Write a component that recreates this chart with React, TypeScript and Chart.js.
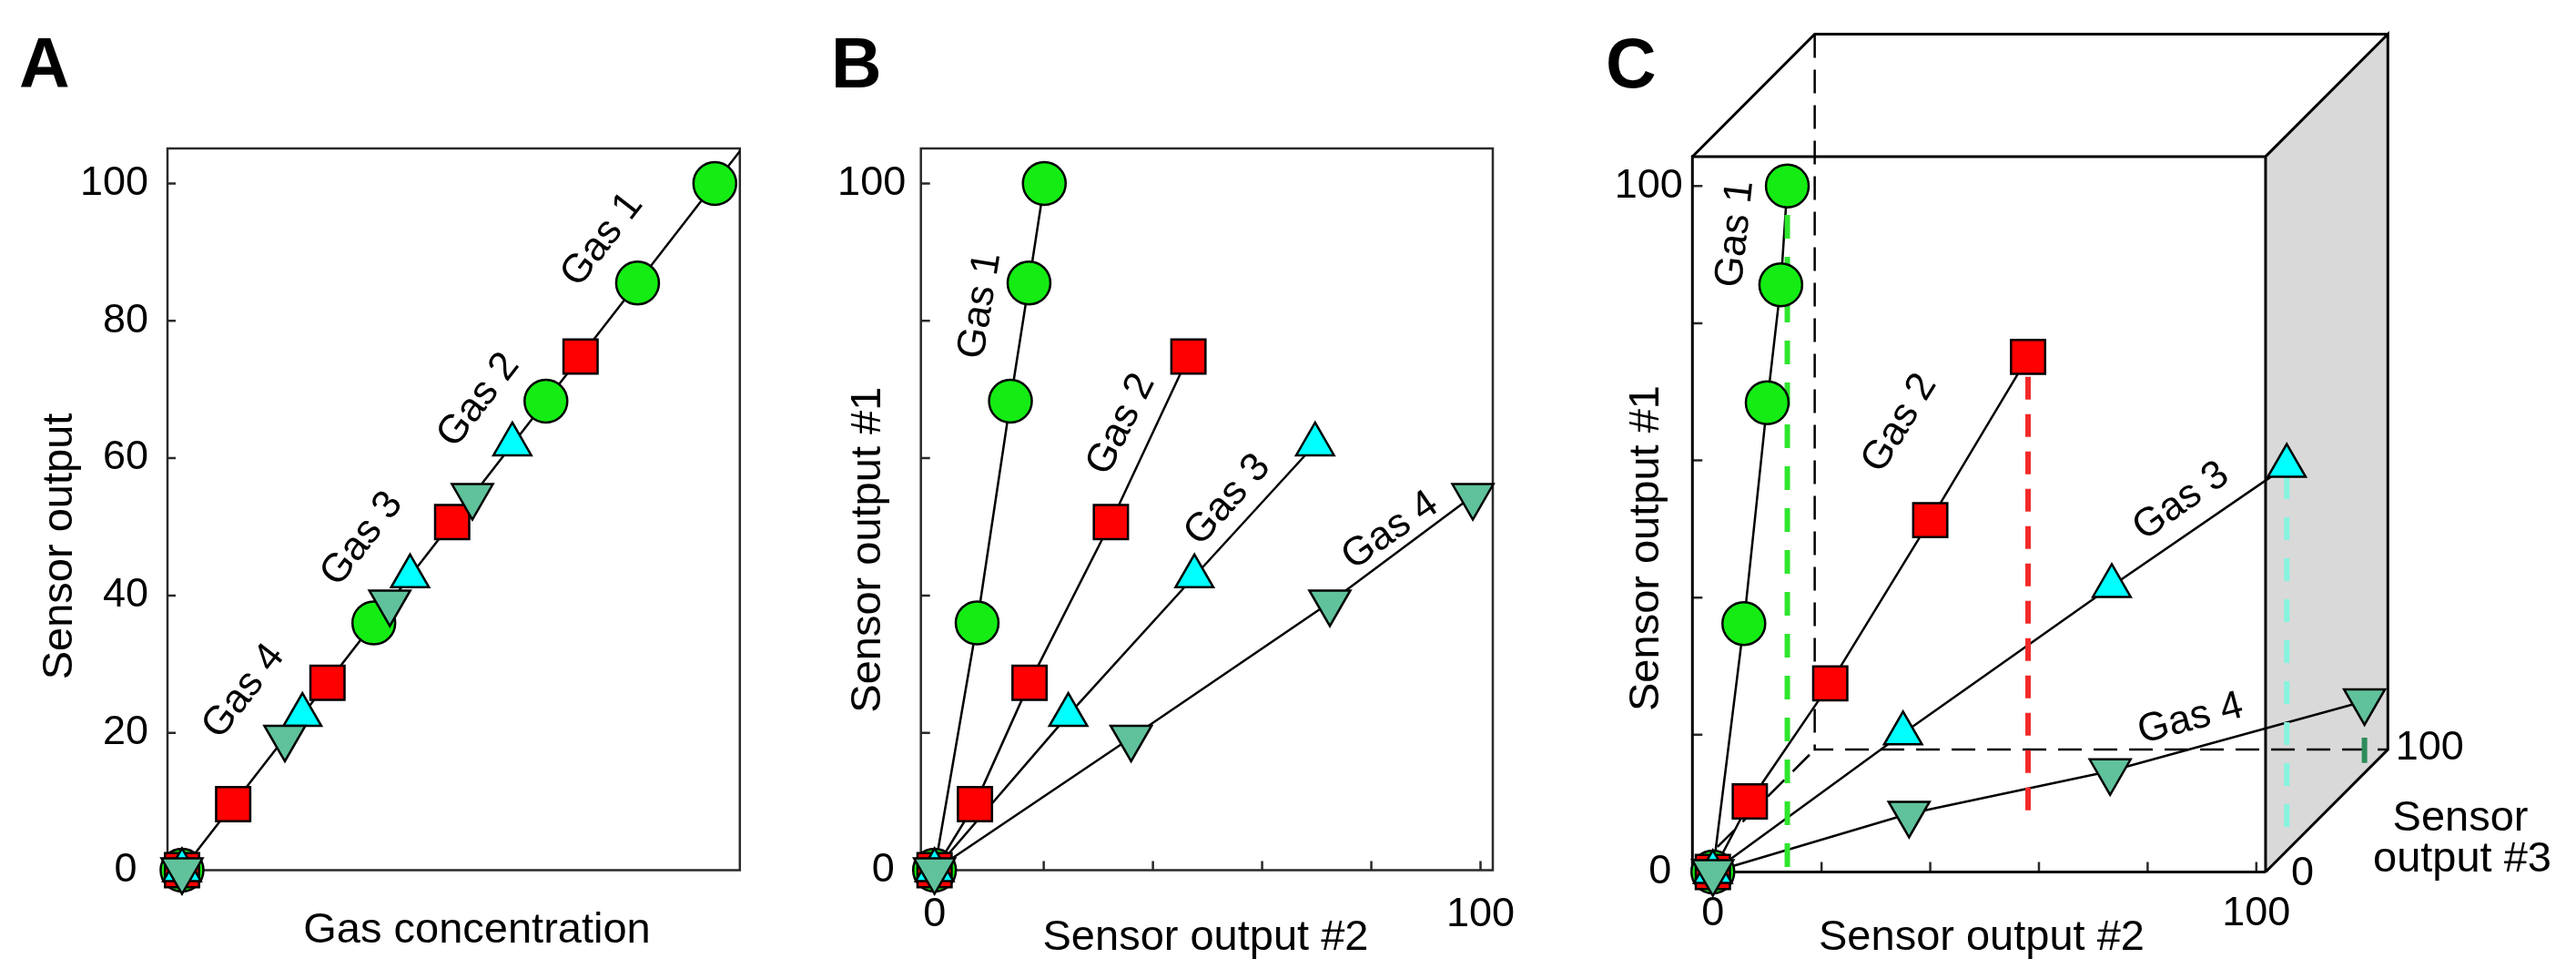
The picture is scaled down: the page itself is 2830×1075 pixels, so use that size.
import React, { useEffect, useRef } from 'react';
import { Chart, registerables } from 'chart.js';

Chart.register(...registerables);

const FONT = '"Liberation Sans", Arial, Helvetica, sans-serif';
const PAGE_W = 2830;
const PAGE_H = 1075;

// ---------------- data ----------------
const gasNames = ['Gas 1', 'Gas 2', 'Gas 3', 'Gas 4'];

// Panel A: single sensor output vs gas concentration
const gas1ConcA = [0, 36, 68.3, 85.5, 100];
const gas1OutA = [0, 36, 68.3, 85.5, 100];
const gas2ConcA = [0, 9.6, 27.3, 50.7, 74.8];
const gas2OutA = [0, 9.6, 27.3, 50.7, 74.8];
const gas3ConcA = [0, 22.6, 42.8, 62];
const gas3OutA = [0, 22.6, 42.8, 62];
const gas4ConcA = [0, 19.3, 39, 54.5];
const gas4OutA = [0, 19.3, 39, 54.5];
const responseLineConcA = [0, 105];
const responseLineOutA = [0, 105];

// Panel B: sensor output #1 vs sensor output #2
const gas1Out2B = [0, 7.8, 13.9, 17.3, 20.1];
const gas1Out1B = [0, 36, 68.3, 85.5, 100];
const gas2Out2B = [0, 7.4, 17.4, 32.3, 46.5];
const gas2Out1B = [0, 9.6, 27.3, 50.7, 74.8];
const gas3Out2B = [0, 24.5, 47.6, 69.7];
const gas3Out1B = [0, 22.6, 42.8, 62];
const gas4Out2B = [0, 36, 72.4, 98.6];
const gas4Out1B = [0, 19.3, 39, 54.5];

// Panel C: 3-sensor space, projected (front-face units)
const gas1XC = [0, 5.7, 10.0, 12.5, 13.7];
const gas1YC = [0, 36.2, 68.4, 85.6, 100];
const gas2XC = [0, 6.8, 21.6, 40.0, 58.0];
const gas2YC = [0, 10.3, 27.5, 51.3, 75.1];
const gas3XC = [0, 35.0, 73.4, 105.6];
const gas3YC = [0, 20.2, 41.7, 59.2];
const gas4XC = [0, 36.1, 73.1, 119.9];
const gas4YC = [0, 8.5, 14.7, 24.9];
// drop lines (projection onto the floor) in panel C
const dropXC = [13.7, 58.0, 105.6, 119.9];
const dropTopC = [95.8, 72.2, 57.7, 19.6];
const dropBottomC = [0, 7.3, 5.0, 15.9];
// box of panel C (front face extents and depth offset)
const boxC = { x0: -3.76, x1: 101.7, top: 104.3, depthX: 22.5, depthY: 17.85 };

// ticks
const tickValues = [0, 20, 40, 60, 80, 100];
const tickLabelsA = ['0 ', '20', '40', '60', '80', '100'];
const yEndLabels = ['0 ', '', '', '', '', '100'];
const xEndLabels = ['0', '', '', '', '', '100'];
const depthLabels = ['0', '100'];

// ---------------- styles ----------------
const MARKERS = [
  { style: 'circle', fill: '#14ec14', radius: 23.5, rotation: 0, order: 4 },
  { style: 'rect', fill: '#ff0000', radius: 26.5, rotation: 0, order: 3 },
  { style: 'triangle', fill: '#00ffff', radius: 24, rotation: 0, order: 2 },
  { style: 'triangle', fill: '#5fc29b', radius: 26, rotation: 180, order: 1 },
];
const DROP_STYLES = [
  { color: '#2ee62e', width: 6, dash: [26, 20] },
  { color: '#f22a2a', width: 6, dash: [25, 16] },
  { color: '#86f3df', width: 6, dash: [25, 20] },
  { color: '#2e8b5a', width: 6, dash: [] as number[] },
];

type Pt = { x: number; y: number };
const pts = (xs: number[], ys: number[]): Pt[] => xs.map((x, i) => ({ x, y: ys[i] }));

function markerSet(data: Pt[], i: number) {
  const m = MARKERS[i];
  return {
    data,
    showLine: false,
    pointStyle: m.style,
    pointRadius: m.radius,
    pointHoverRadius: m.radius,
    pointRotation: m.rotation,
    pointBackgroundColor: m.fill,
    pointBorderColor: '#000',
    pointBorderWidth: 2.5,
    order: m.order,
    clip: false,
  };
}

function lineSet(data: Pt[], extra: any = {}) {
  return {
    data,
    showLine: true,
    pointRadius: 0,
    pointHoverRadius: 0,
    borderColor: '#000',
    borderWidth: 2.5,
    fill: false,
    order: 70,
    clip: false,
    borderCapStyle: 'butt',
    borderJoinStyle: 'miter',
    ...extra,
  };
}

function axis(min: number, max: number, horizontal: boolean, size: number, labels: string[], padding: number) {
  return {
    type: 'linear',
    min,
    max,
    display: true,
    afterBuildTicks: (s: any) => {
      s.ticks = tickValues.map((v) => ({ value: v }));
    },
    afterFit: (s: any) => {
      if (horizontal) s.height = size;
      else s.width = size;
    },
    ticks: {
      display: labels.length > 0,
      autoSkip: false,
      maxRotation: 0,
      minRotation: 0,
      padding,
      color: '#000',
      font: { family: FONT, size: 45 },
      callback: (_v: any, i: number) => (labels[i] !== undefined ? labels[i] : ''),
    },
    grid: { display: false, drawTicks: false },
    border: { display: false },
  };
}

type GasLabel = { text: string; at: Pt; from: Pt; to: Pt };
type FreeText = { text: string; x: number; y: number; font: string; align?: CanvasTextAlign; baseline?: CanvasTextBaseline; rot?: number };

function decor(spec: {
  id: string;
  frame: boolean;
  tickX: boolean;
  tickY: boolean;
  tickLen: number;
  gasLabels: GasLabel[];
  texts: FreeText[];
  anchored?: { text: string; at: Pt; dx: number; dy: number }[];
}) {
  return {
    id: spec.id,
    beforeDatasetsDraw(chart: any) {
      const { ctx, chartArea: a, scales } = chart;
      const xs = scales.x;
      const ys = scales.y;
      ctx.save();
      ctx.strokeStyle = '#2a2a2a';
      ctx.lineWidth = 2.5;
      if (spec.frame) ctx.strokeRect(a.left, a.top, a.right - a.left, a.bottom - a.top);
      ctx.beginPath();
      if (spec.tickY) {
        for (const t of ys.ticks) {
          const py = ys.getPixelForValue(t.value);
          ctx.moveTo(a.left, py);
          ctx.lineTo(a.left + spec.tickLen, py);
        }
      }
      if (spec.tickX) {
        for (const t of xs.ticks) {
          const px = xs.getPixelForValue(t.value);
          ctx.moveTo(px, a.bottom);
          ctx.lineTo(px, a.bottom - spec.tickLen);
        }
      }
      ctx.stroke();
      ctx.restore();
    },
    afterDatasetsDraw(chart: any) {
      const { ctx, scales } = chart;
      const xs = scales.x;
      const ys = scales.y;
      ctx.save();
      ctx.fillStyle = '#000';
      for (const g of spec.gasLabels) {
        const ang = Math.atan2(
          ys.getPixelForValue(g.to.y) - ys.getPixelForValue(g.from.y),
          xs.getPixelForValue(g.to.x) - xs.getPixelForValue(g.from.x)
        );
        ctx.save();
        ctx.translate(xs.getPixelForValue(g.at.x), ys.getPixelForValue(g.at.y));
        ctx.rotate(ang);
        ctx.font = `44px ${FONT}`;
        ctx.textAlign = 'center';
        ctx.textBaseline = 'middle';
        ctx.fillText(g.text, 0, 0);
        ctx.restore();
      }
      for (const t of spec.anchored || []) {
        ctx.font = `45px ${FONT}`;
        ctx.textAlign = 'left';
        ctx.textBaseline = 'middle';
        ctx.fillText(t.text, xs.getPixelForValue(t.at.x) + t.dx, ys.getPixelForValue(t.at.y) + t.dy);
      }
      for (const t of spec.texts) {
        ctx.save();
        ctx.translate(t.x, t.y);
        if (t.rot) ctx.rotate(t.rot);
        ctx.font = t.font;
        ctx.textAlign = t.align || 'center';
        ctx.textBaseline = t.baseline || 'middle';
        ctx.fillText(t.text, 0, 0);
        ctx.restore();
      }
      ctx.restore();
    },
  };
}

const TITLE = `47px ${FONT}`;
const LETTER = `bold 77px ${FONT}`;

function baseOptions(padTop: number, padRight: number, scales: any) {
  return {
    responsive: false,
    maintainAspectRatio: false,
    animation: false,
    events: [],
    layout: { padding: { left: 0, top: padTop, right: padRight, bottom: 0 } },
    plugins: { legend: { display: false }, tooltip: { enabled: false } },
    scales,
  };
}

// ---------------- panel configs ----------------
function configA() {
  const W = 880;
  const area = { left: 184, right: 812.8, top: 163, bottom: 955.5 };
  const lineData = pts(responseLineConcA, responseLineOutA);
  return {
    type: 'scatter',
    data: {
      datasets: [
        lineSet(lineData, { clip: 0 }),
        markerSet(pts(gas1ConcA, gas1OutA), 0),
        markerSet(pts(gas2ConcA, gas2OutA), 1),
        markerSet(pts(gas3ConcA, gas3OutA), 2),
        markerSet(pts(gas4ConcA, gas4OutA), 3),
      ],
    },
    options: baseOptions(area.top, W - area.right, {
      x: axis(-2.73, 104.7, true, PAGE_H - area.bottom, [], 0),
      y: axis(0, 105.1, false, area.left, tickLabelsA, 21),
    }),
    plugins: [
      decor({
        id: 'decorA',
        frame: true,
        tickX: false,
        tickY: true,
        tickLen: 9,
        gasLabels: [
          { text: gasNames[0], at: { x: 78.9, y: 91.8 }, from: lineData[0], to: lineData[1] },
          { text: gasNames[1], at: { x: 55.7, y: 68.4 }, from: lineData[0], to: lineData[1] },
          { text: gasNames[2], at: { x: 33.8, y: 48.2 }, from: lineData[0], to: lineData[1] },
          { text: gasNames[3], at: { x: 11.6, y: 26.0 }, from: lineData[0], to: lineData[1] },
        ],
        texts: [
          { text: 'A', x: 21, y: 96, font: LETTER, align: 'left', baseline: 'alphabetic' },
          { text: 'Gas concentration', x: 524, y: 1022, font: TITLE },
          { text: 'Sensor output', x: 66, y: 600, font: TITLE, rot: -Math.PI / 2 },
        ],
      }),
    ],
  };
}

function configB() {
  const W = 860;
  const area = { left: 131.7, right: 760, top: 163, bottom: 955.5 };
  const g1 = pts(gas1Out2B, gas1Out1B);
  const g2 = pts(gas2Out2B, gas2Out1B);
  const g3 = pts(gas3Out2B, gas3Out1B);
  const g4 = pts(gas4Out2B, gas4Out1B);
  return {
    type: 'scatter',
    data: {
      datasets: [
        lineSet(g1),
        lineSet(g2),
        lineSet(g3),
        lineSet(g4),
        markerSet(g1, 0),
        markerSet(g2, 1),
        markerSet(g3, 2),
        markerSet(g4, 3),
      ],
    },
    options: baseOptions(area.top, W - area.right, {
      x: axis(-2.5, 102.25, true, PAGE_H - area.bottom, xEndLabels, 22),
      y: axis(0, 105.1, false, area.left, yEndLabels, 16.5),
    }),
    plugins: [
      decor({
        id: 'decorB',
        frame: true,
        tickX: true,
        tickY: true,
        tickLen: 10,
        gasLabels: [
          { text: gasNames[0], at: { x: 8.4, y: 82.2 }, from: g1[0], to: g1[g1.length - 1] },
          { text: gasNames[1], at: { x: 34.2, y: 64.9 }, from: g2[0], to: g2[g2.length - 1] },
          { text: gasNames[2], at: { x: 53.7, y: 53.9 }, from: g3[0], to: g3[g3.length - 1] },
          { text: gasNames[3], at: { x: 83.5, y: 49.4 }, from: g4[0], to: g4[g4.length - 1] },
        ],
        texts: [
          { text: 'B', x: 33, y: 96, font: LETTER, align: 'left', baseline: 'alphabetic' },
          { text: 'Sensor output #2', x: 444.5, y: 1030, font: TITLE },
          { text: 'Sensor output #1', x: 74, y: 603.7, font: TITLE, rot: -Math.PI / 2 },
        ],
      }),
    ],
  };
}

function configC() {
  const W = 1090;
  const area = { left: 119.3, right: 883.3, top: 33.3, bottom: 957.5 };
  const { x0, x1, top, depthX: dx, depthY: dy } = boxC;
  const g1 = pts(gas1XC, gas1YC);
  const g2 = pts(gas2XC, gas2YC);
  const g3 = pts(gas3XC, gas3YC);
  const g4 = pts(gas4XC, gas4YC);
  const drops = dropXC.map((x, i) =>
    lineSet(
      [
        { x, y: dropTopC[i] },
        { x, y: dropBottomC[i] },
      ],
      {
        borderColor: DROP_STYLES[i].color,
        borderWidth: DROP_STYLES[i].width,
        borderDash: DROP_STYLES[i].dash,
        order: 60,
      }
    )
  );
  return {
    type: 'scatter',
    data: {
      datasets: [
        lineSet(
          [
            { x: x1, y: 0 },
            { x: x1, y: top },
            { x: x1 + dx, y: top + dy },
            { x: x1 + dx, y: dy },
            { x: x1, y: 0 },
          ],
          { fill: 'shape', backgroundColor: '#d9d9d9', borderWidth: 3, order: 100 }
        ),
        lineSet(
          [
            { x: x1, y: 0 },
            { x: x0, y: 0 },
            { x: x0, y: top },
            { x: x1, y: top },
          ],
          { borderWidth: 3, order: 95 }
        ),
        lineSet(
          [
            { x: x0, y: top },
            { x: x0 + dx, y: top + dy },
            { x: x1 + dx, y: top + dy },
          ],
          { borderWidth: 3, order: 95 }
        ),
        lineSet(
          [
            { x: x0 + dx, y: top + dy },
            { x: x0 + dx, y: dy },
            { x: x1 + dx, y: dy },
          ],
          { borderWidth: 2.5, borderDash: [26, 13], order: 90 }
        ),
        lineSet(
          [
            { x: x0, y: 0 },
            { x: x0 + dx, y: dy },
          ],
          { borderWidth: 2.5, borderDash: [26, 13], order: 90 }
        ),
        ...drops,
        lineSet(g1),
        lineSet(g2),
        lineSet(g3),
        lineSet(g4),
        markerSet(g1, 0),
        markerSet(g2, 1),
        markerSet(g3, 2),
        markerSet(g4, 3),
      ],
    },
    options: baseOptions(area.top, W - area.right, {
      x: axis(x0, x1 + dx, true, PAGE_H - area.bottom, xEndLabels, 19),
      y: axis(0, top + dy, false, area.left, yEndLabels, 10.5),
    }),
    plugins: [
      decor({
        id: 'decorC',
        frame: false,
        tickX: true,
        tickY: true,
        tickLen: 11,
        gasLabels: [
          { text: gasNames[0], at: { x: 4.2, y: 93 }, from: g1[0], to: g1[g1.length - 1] },
          { text: gasNames[1], at: { x: 34.4, y: 65.4 }, from: g2[0], to: g2[g2.length - 1] },
          { text: gasNames[2], at: { x: 86.2, y: 54 }, from: g3[0], to: g3[g3.length - 1] },
          { text: gasNames[3], at: { x: 87.9, y: 22.3 }, from: g4[0], to: g4[g4.length - 1] },
        ],
        anchored: [
          { text: depthLabels[0], at: { x: x1, y: 0 }, dx: 28, dy: 2 },
          { text: depthLabels[1], at: { x: x1 + dx, y: dy }, dx: 8.5, dy: -1.5 },
        ],
        texts: [
          { text: 'C', x: 24, y: 96, font: LETTER, align: 'left', baseline: 'alphabetic' },
          { text: 'Sensor output #2', x: 437, y: 1030, font: TITLE },
          { text: 'Sensor output #1', x: 69.4, y: 602, font: TITLE, rot: -Math.PI / 2 },
          { text: 'Sensor', x: 963, y: 912, font: TITLE, baseline: 'alphabetic' },
          { text: 'output #3', x: 965, y: 957, font: TITLE, baseline: 'alphabetic' },
        ],
      }),
    ],
  };
}

function Panel({ left, width, make }: { left: number; width: number; make: () => any }) {
  const ref = useRef<HTMLCanvasElement | null>(null);
  useEffect(() => {
    if (!ref.current) return;
    const chart = new Chart(ref.current, make());
    return () => chart.destroy();
  }, []);
  return (
    <canvas
      ref={ref}
      width={width}
      height={PAGE_H}
      style={{ position: 'absolute', left, top: 0, width, height: PAGE_H }}
    />
  );
}

export default function App() {
  return (
    <div style={{ position: 'absolute', left: 0, top: 0, width: PAGE_W, height: PAGE_H, background: '#ffffff', overflow: 'hidden' }}>
      <Panel left={0} width={880} make={configA} />
      <Panel left={880} width={860} make={configB} />
      <Panel left={1740} width={1090} make={configC} />
    </div>
  );
}
